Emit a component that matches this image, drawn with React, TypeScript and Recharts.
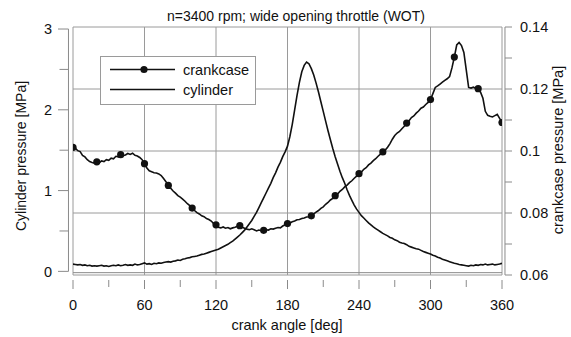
import React from "react";
import { LineChart, Line, XAxis, YAxis, ReferenceLine, ReferenceArea } from "recharts";

const W = 571;
const H = 337;
const FONT = '"Liberation Sans", Arial, Helvetica, sans-serif';
const INK = "#111";
const GRID = "#9a9a9a";
const AXIS = "#8a8a8a";

const title = "n=3400 rpm; wide opening throttle (WOT)";
const xTitle = "crank angle [deg]";
const leftTitle = "Cylinder pressure [MPa]";
const rightTitle = "crankcase pressure [MPa]";

const xTicks = [0, 30, 60, 90, 120, 150, 180, 210, 240, 270, 300, 330, 360];
const leftTicks = [0, 0.5, 1, 1.5, 2, 2.5, 3];
const rightTicks = [0.06, 0.07, 0.08, 0.09, 0.1, 0.11, 0.12, 0.13, 0.14];
const xGrid = [60, 120, 180, 240, 300];
const yGrid = [0.08, 0.1, 0.12];
const MARKER_EVERY = 20;
const ANGLE_STEP = 2;

// crankcase pressure [MPa], every 2 deg from 0 to 360
const crankcase = [
  0.1012, 0.1009, 0.1001, 0.0998, 0.0986, 0.0981, 0.0972, 0.0966, 0.0963, 0.0961,
  0.0965, 0.0962, 0.0968, 0.0966, 0.0972, 0.097, 0.0977, 0.0975, 0.0983, 0.0981,
  0.0988, 0.0985, 0.0987, 0.0992, 0.0989, 0.0993, 0.0986, 0.0984, 0.0979, 0.0972,
  0.0959, 0.0945, 0.0936, 0.0933, 0.093, 0.0929, 0.0926, 0.0921, 0.0911, 0.0901,
  0.0889, 0.088, 0.0871, 0.0864, 0.0856, 0.0851, 0.0845, 0.0838, 0.083, 0.0824,
  0.0816, 0.0808, 0.0801, 0.0797, 0.0791, 0.0788, 0.0782, 0.0779, 0.0774, 0.0766,
  0.0762, 0.0754, 0.0752, 0.0755, 0.0751, 0.0753, 0.0749, 0.0752, 0.0754, 0.0757,
  0.0759, 0.0754, 0.0751, 0.0748, 0.0746, 0.0749, 0.0746, 0.0742, 0.0745, 0.0743,
  0.0744, 0.0746, 0.0745, 0.0749, 0.0748, 0.0751, 0.0753, 0.0752, 0.0758, 0.0762,
  0.0766, 0.0768, 0.0772, 0.0774, 0.0778, 0.0779, 0.0782, 0.0784, 0.0787, 0.0788,
  0.0791, 0.0797, 0.0803, 0.0808, 0.0815, 0.082, 0.0828, 0.0834, 0.0842, 0.0847,
  0.0856, 0.0861, 0.087, 0.0876, 0.0884, 0.089, 0.0898, 0.0904, 0.0912, 0.0919,
  0.0927, 0.0932, 0.0941, 0.0946, 0.0955, 0.0961, 0.0969, 0.0975, 0.0983, 0.099,
  0.0997, 0.1003, 0.1012, 0.1024, 0.1038, 0.105, 0.1058, 0.1063, 0.1072, 0.108,
  0.109, 0.1098, 0.1108, 0.1113, 0.1122, 0.1129, 0.1138, 0.1142, 0.115, 0.1157,
  0.1166, 0.1185, 0.1205, 0.121, 0.1216, 0.1222, 0.1228, 0.1233, 0.124, 0.1268,
  0.1303, 0.1342, 0.135, 0.134, 0.1318, 0.1262, 0.1205, 0.1203, 0.1206, 0.1202,
  0.1201, 0.119, 0.117, 0.1128, 0.1115, 0.1112, 0.111, 0.1114, 0.1118, 0.1105,
  0.1092,
];

// cylinder pressure [MPa], every 2 deg from 0 to 360
const cylinder = [
  0.09, 0.085, 0.08, 0.085, 0.075, 0.08, 0.07, 0.075, 0.065, 0.07,
  0.065, 0.07, 0.075, 0.065, 0.07, 0.06, 0.07, 0.075, 0.07, 0.08,
  0.07, 0.075, 0.085, 0.075, 0.08, 0.075, 0.09, 0.08, 0.085, 0.095,
  0.105, 0.09, 0.095, 0.085, 0.1, 0.095, 0.105, 0.1, 0.11, 0.115,
  0.12, 0.115, 0.125, 0.13, 0.14, 0.135, 0.15, 0.155, 0.165, 0.17,
  0.18, 0.185, 0.19, 0.2, 0.21, 0.215, 0.225, 0.235, 0.245, 0.255,
  0.265, 0.275, 0.29, 0.305, 0.32, 0.335, 0.355, 0.375, 0.4, 0.425,
  0.45, 0.48, 0.51, 0.55, 0.59, 0.63, 0.68, 0.73, 0.79, 0.85,
  0.91, 0.97, 1.03, 1.09, 1.16, 1.22, 1.29, 1.35, 1.42, 1.48,
  1.55, 1.67, 1.82, 2.0, 2.18, 2.34, 2.47, 2.55, 2.59, 2.57,
  2.51, 2.43, 2.33, 2.22, 2.1, 1.98, 1.86, 1.74, 1.63, 1.52,
  1.42, 1.33, 1.24, 1.16, 1.09, 1.01, 0.94, 0.88, 0.82, 0.77,
  0.73, 0.69, 0.66, 0.63, 0.6, 0.575, 0.55, 0.53, 0.51, 0.49,
  0.47, 0.455, 0.44, 0.42, 0.41, 0.39, 0.38, 0.36, 0.35, 0.345,
  0.33, 0.31, 0.3, 0.29, 0.28, 0.275, 0.26, 0.245, 0.235, 0.225,
  0.215, 0.2, 0.19, 0.175, 0.165, 0.15, 0.14, 0.13, 0.12, 0.11,
  0.1, 0.095, 0.085, 0.08, 0.075, 0.07, 0.065, 0.075, 0.07, 0.08,
  0.075, 0.085, 0.08, 0.09, 0.08, 0.085, 0.09, 0.08, 0.085, 0.09,
  0.1,
];

const crankcaseData = crankcase.map((p, i) => ({ angle: i * ANGLE_STEP, p }));
const cylinderData = cylinder.map((p, i) => ({ angle: i * ANGLE_STEP, p }));

function LeftTick({ x, y, payload }: any) {
  const v = payload.value;
  const major = Number.isInteger(v);
  return (
    <g>
      <line x1={x - (major ? 15 : 13.5)} x2={x - 4.5} y1={y} y2={y} stroke={AXIS} />
      {major && (
        <text x={x - 21} y={y} dy="0.36em" textAnchor="end" fontSize={14.5} fill={INK} fontFamily={FONT}>
          {v}
        </text>
      )}
    </g>
  );
}

function RightTick({ x, y, payload }: any) {
  const v = payload.value;
  const major = Math.round(v * 100) % 2 === 0;
  return (
    <g>
      <line x1={x + 3} x2={x + 10} y1={y} y2={y} stroke={AXIS} />
      {major && (
        <text x={x + 18} y={y} dy="0.36em" textAnchor="start" fontSize={14.5} fill={INK} fontFamily={FONT}>
          {String(v)}
        </text>
      )}
    </g>
  );
}

function BottomTick({ x, y, payload }: any) {
  const v = payload.value;
  const major = v % 60 === 0;
  return (
    <g>
      <line x1={x} x2={x} y1={y + 5} y2={y + (major ? 14 : 12)} stroke={AXIS} />
      {major && (
        <text x={x} y={y + 30} dy="0.36em" textAnchor="middle" fontSize={14.5} fill={INK} fontFamily={FONT}>
          {v}
        </text>
      )}
    </g>
  );
}

function CrankDot(props: any) {
  const { cx, cy, payload, index } = props;
  if (payload.angle % MARKER_EVERY !== 0) return <g key={`d${index}`} />;
  return <circle key={`d${index}`} cx={cx} cy={cy} r={3.6} fill={INK} stroke="none" />;
}

export default function App() {
  return (
    <div style={{ position: "absolute", left: 0, top: 0, width: W, height: H, background: "#fff", fontFamily: FONT }}>
      <LineChart width={W} height={H} margin={{ top: 27, right: 0, bottom: 0, left: 0 }}>
        <XAxis
          dataKey="angle"
          type="number"
          domain={[0, 360]}
          ticks={xTicks}
          interval={0}
          allowDataOverflow
          height={62}
          tickSize={0}
          tickMargin={0}
          axisLine={false}
          tickLine={false}
          tick={(p: any) => <BottomTick {...p} />}
        />
        <YAxis
          yAxisId="L"
          orientation="left"
          width={73}
          type="number"
          domain={[-0.045, 3.025]}
          ticks={leftTicks}
          interval={0}
          allowDataOverflow
          tickSize={0}
          tickMargin={0}
          axisLine={false}
          tickLine={false}
          tick={(p: any) => <LeftTick {...p} />}
        />
        <YAxis
          yAxisId="R"
          orientation="right"
          width={69}
          type="number"
          domain={[0.06, 0.14]}
          ticks={rightTicks}
          interval={0}
          allowDataOverflow
          tickSize={0}
          tickMargin={0}
          axisLine={false}
          tickLine={false}
          tick={(p: any) => <RightTick {...p} />}
        />

        {xGrid.map((g) => (
          <ReferenceLine key={`gx${g}`} yAxisId="R" x={g} stroke={GRID} strokeWidth={1} />
        ))}
        {yGrid.map((g) => (
          <ReferenceLine key={`gy${g}`} yAxisId="R" y={g} stroke={GRID} strokeWidth={1} />
        ))}
        <ReferenceArea yAxisId="R" x1={0} x2={360} y1={0.06} y2={0.14} fill="none" stroke={GRID} strokeWidth={1} />

        {/* offset axis lines */}
        <ReferenceLine
          yAxisId="L"
          segment={[{ x: -3.8, y: 0 }, { x: -3.8, y: 3 }]}
          ifOverflow="visible"
          stroke={AXIS}
        />
        <ReferenceLine
          yAxisId="R"
          segment={[{ x: 362.5, y: 0.06 }, { x: 362.5, y: 0.14 }]}
          ifOverflow="visible"
          stroke={AXIS}
        />
        <ReferenceLine
          yAxisId="L"
          segment={[{ x: 0, y: -0.016 }, { x: 360, y: -0.016 }]}
          ifOverflow="visible"
          stroke={AXIS}
        />

        <Line
          yAxisId="L"
          data={cylinderData}
          dataKey="p"
          type="linear"
          stroke={INK}
          strokeWidth={1.6}
          dot={false}
          activeDot={false}
          isAnimationActive={false}
        />
        <Line
          yAxisId="R"
          data={crankcaseData}
          dataKey="p"
          type="linear"
          stroke={INK}
          strokeWidth={1.6}
          dot={(p: any) => <CrankDot {...p} />}
          activeDot={false}
          isAnimationActive={false}
        />
      </LineChart>

      <svg
        width={W}
        height={H}
        style={{ position: "absolute", left: 0, top: 0, pointerEvents: "none" }}
        fontFamily={FONT}
      >
        <text x={296} y={16} dy="0.36em" textAnchor="middle" fontSize={14} fill={INK}>
          {title}
        </text>
        <text x={287} y={325} dy="0.36em" textAnchor="middle" fontSize={14.5} fill={INK}>
          {xTitle}
        </text>
        <text
          x={21}
          y={156}
          dy="0.36em"
          textAnchor="middle"
          fontSize={14}
          fill={INK}
          transform="rotate(-90 21 156)"
        >
          {leftTitle}
        </text>
        <text
          x={558}
          y={150}
          dy="0.36em"
          textAnchor="middle"
          fontSize={14.5}
          fill={INK}
          transform="rotate(-90 558 150)"
        >
          {rightTitle}
        </text>

        <rect x={100.5} y={56.5} width={155} height={48} fill="#fff" stroke={GRID} />
        <line x1={110} x2={175} y1={69.5} y2={69.5} stroke={INK} strokeWidth={1.7} />
        <circle cx={144} cy={69.5} r={3.6} fill={INK} />
        <text x={183} y={69.5} dy="0.36em" fontSize={14.5} fill={INK}>
          crankcase
        </text>
        <line x1={110} x2={175} y1={89.5} y2={89.5} stroke={INK} strokeWidth={1.7} />
        <text x={183} y={89.5} dy="0.36em" fontSize={14.5} fill={INK}>
          cylinder
        </text>
      </svg>
    </div>
  );
}
